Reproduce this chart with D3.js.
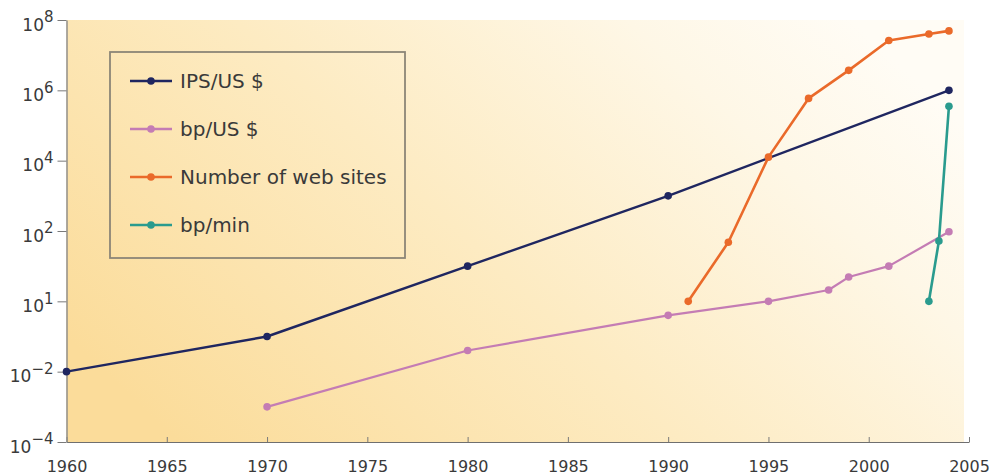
<!DOCTYPE html>
<html>
<head>
<meta charset="utf-8">
<script src="https://cdn.jsdelivr.net/npm/d3@7"></script>
<style>
  html, body { margin: 0; padding: 0; background: #ffffff; }
  svg { display: block; }
  text { font-family: "DejaVu Sans", sans-serif; fill: #3a3a3a; }
</style>
</head>
<body>
<svg id="chart" width="995" height="476"></svg>
<script>
// Growth of computing, sequencing and the web, 1960-2005 (log scale)
const ipsYears = [1960, 1970, 1980, 1990, 2004];
const ipsValues = [1e-2, 1e-1, 1e1, 1e3, 1e6];

const bpUsdYears = [1970, 1980, 1990, 1995, 1998, 1999, 2001, 2004];
const bpUsdValues = [1e-3, 0.04, 0.4, 1, 2.1, 4.9, 10, 95];

const webYears = [1991, 1993, 1995, 1997, 1999, 2001, 2003, 2004];
const webValues = [1, 48, 12600, 5.9e5, 3.7e6, 2.6e7, 4.0e7, 4.9e7];

const bpMinYears = [2003, 2003.5, 2004];
const bpMinValues = [1, 52, 3.5e5];

const seriesNames = ["IPS/US $", "bp/US $", "Number of web sites", "bp/min"];
const seriesColors = ["#1f2660", "#c47cb4", "#ea6a2a", "#2a9b8e"];

const xTickValues = [1960, 1965, 1970, 1975, 1980, 1985, 1990, 1995, 2000, 2005];
const yTickValues = [1e-4, 1e-2, 1e0, 1e2, 1e4, 1e6, 1e8];
const yTickExponents = ["\u22124", "\u22122", "1", "2", "4", "6", "8"];

const svg = d3.select("#chart");
const plotLeft = 66.5, plotRight = 969, plotTop = 20, plotBottom = 442;

const x = d3.scaleLinear().domain([1960, 2005]).range([plotLeft, plotRight]);
const y = d3.scaleLog().domain([1e-4, 1e8]).range([plotBottom, plotTop]);

// Background wash: warm yellow on the left fading to cream on the right
const defs = svg.append("defs");
const grad = defs.append("linearGradient")
  .attr("id", "bg").attr("x1", "0").attr("y1", "0.75").attr("x2", "1").attr("y2", "0.25");
grad.append("stop").attr("offset", "0").attr("stop-color", "#fbdc9a");
grad.append("stop").attr("offset", "0.45").attr("stop-color", "#fdebc2");
grad.append("stop").attr("offset", "0.8").attr("stop-color", "#fef7e6");
grad.append("stop").attr("offset", "1").attr("stop-color", "#fffcf5");

svg.append("rect")
  .attr("x", plotLeft).attr("y", plotTop)
  .attr("width", x(2005) - plotLeft - 5).attr("height", plotBottom - plotTop)
  .attr("fill", "url(#bg)");

// Axes
const xAxis = svg.append("g")
  .attr("transform", `translate(0,${plotBottom})`)
  .call(d3.axisBottom(x).tickValues(xTickValues).tickFormat(d3.format("d")).tickSizeInner(-5).tickSizeOuter(0).tickPadding(19));
xAxis.select(".domain").attr("stroke", "#6f6f6f").attr("stroke-width", 1.2);
xAxis.selectAll(".tick line").attr("stroke", "#7a7a7a");
xAxis.selectAll(".tick text").style("font-size", "16px").attr("fill", "#3a3a3a");

const yAxis = svg.append("g")
  .attr("transform", `translate(${plotLeft},0)`)
  .call(d3.axisLeft(y).tickValues(yTickValues).tickFormat(() => "").tickSizeInner(9).tickSizeOuter(0).tickPadding(4));
yAxis.select(".domain").attr("stroke", "#8a8a8a").attr("stroke-width", 1.4);
yAxis.selectAll(".tick line").attr("stroke", "#7a7a7a");
yAxis.selectAll(".tick text")
  .style("font-size", "17px")
  .attr("dy", "0.6em")
  .each(function (d, i) {
    const t = d3.select(this);
    t.text(null);
    t.append("tspan").text("10");
    t.append("tspan").attr("dy", "-0.55em").style("font-size", "15px").text(yTickExponents[i]);
  });

// Series lines and markers
const series = [
  { years: ipsYears, values: ipsValues, width: 2.4 },
  { years: bpUsdYears, values: bpUsdValues, width: 2.2 },
  { years: webYears, values: webValues, width: 2.6 },
  { years: bpMinYears, values: bpMinValues, width: 2.6 }
];

const line = d3.line()
  .x(d => x(d[0]))
  .y(d => y(d[1]));

series.forEach((s, i) => {
  const pts = s.years.map((yr, j) => [yr, s.values[j]]);
  const g = svg.append("g");
  g.append("path")
    .datum(pts)
    .attr("d", line)
    .attr("fill", "none")
    .attr("stroke", seriesColors[i])
    .attr("stroke-width", s.width)
    .attr("stroke-linejoin", "round");
  g.selectAll("circle")
    .data(pts)
    .join("circle")
    .attr("cx", d => x(d[0]))
    .attr("cy", d => y(d[1]))
    .attr("r", 3.8)
    .attr("fill", seriesColors[i]);
});

// Legend
const legend = svg.append("g");
legend.append("rect")
  .attr("x", 110).attr("y", 52).attr("width", 295).attr("height", 206)
  .attr("fill", "none").attr("stroke", "#8c8677").attr("stroke-width", 1.8);

seriesNames.forEach((name, i) => {
  const cy = 81 + i * 48;
  const row = legend.append("g");
  row.append("line")
    .attr("x1", 130).attr("x2", 172).attr("y1", cy).attr("y2", cy)
    .attr("stroke", seriesColors[i]).attr("stroke-width", 2.4);
  row.append("circle")
    .attr("cx", 151).attr("cy", cy).attr("r", 3.8)
    .attr("fill", seriesColors[i]);
  row.append("text")
    .attr("x", 180).attr("y", cy + 7)
    .style("font-size", "20px")
    .attr("fill", "#2e2e2e")
    .text(name);
});
</script>
</body>
</html>
